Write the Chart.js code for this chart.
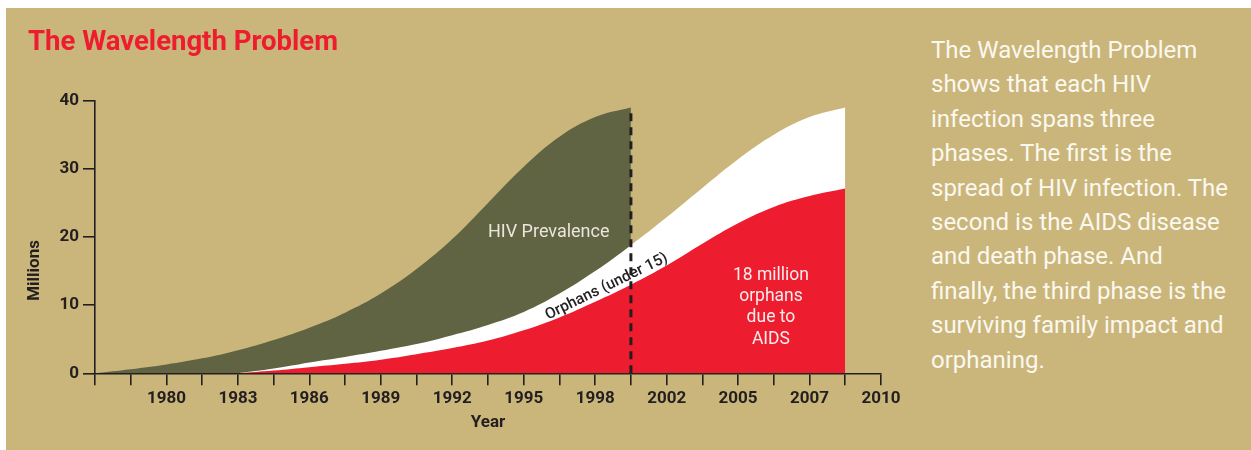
<!DOCTYPE html>
<html>
<head>
<meta charset="utf-8">
<script src="https://cdn.jsdelivr.net/npm/chart.js@4.4.1/dist/chart.umd.min.js"></script>
<style>
body { margin: 0; background: #fff; width: 1251px; height: 450px; overflow: hidden; font-family: Roboto, sans-serif; }
#panel { position: absolute; left: 6px; top: 8px; width: 1245px; height: 442px; background: #cab67b; }
#title { position: absolute; left: 22px; top: 19px; color: #ed1c2e; font-weight: bold; font-size: 27.5px; line-height: 27px; white-space: nowrap; }
#chartBox { position: absolute; left: 0; top: 0; width: 920px; height: 442px; }
#side { position: absolute; left: 925px; top: 25px; color: #fbf8ef; font-size: 24px; line-height: 34.4px; white-space: nowrap; }
</style>
</head>
<body>
<div id="panel">
  <div id="chartBox"><canvas id="waveChart"></canvas></div>
  <div id="title">The Wavelength Problem</div>
  <div id="side">The Wavelength Problem<br>shows that each HIV<br>infection spans three<br>phases. The first is the<br>spread of HIV infection. The<br>second is the AIDS disease<br>and death phase. And<br>finally, the third phase is the<br>surviving family impact and<br>orphaning.</div>
</div>
<script>
// DATA (x = tick index along the year axis, 0..22)
const tickLabels = ['', '', '1980', '', '1983', '', '1986', '', '1989', '', '1992', '',
  '1995', '', '1998', '', '2002', '', '2005', '', '2007', '', '2010'];
const hivTicks = [0, 1, 2, 3, 4, 5, 6, 7, 8, 9, 10, 11, 12, 13, 14, 15];
const hivPrevalence = [0, 0.6, 1.3, 2.2, 3.4, 4.9, 6.7, 8.9, 11.7, 15.3, 19.7, 25.0, 30.3, 34.7, 37.6, 39.0];
const orphanTicks = [4, 5, 6, 7, 8, 9, 10, 11, 12, 13, 14, 15, 16, 17, 18, 19, 20, 21];
const orphansAll = [0, 0.7, 1.6, 2.4, 3.3, 4.3, 5.6, 7.1, 9.0, 11.7, 15.0, 18.8, 22.9, 27.2, 31.4, 35.0, 37.6, 39.0];
const orphansAids = [0, 0.4, 0.9, 1.4, 2.0, 2.8, 3.7, 4.8, 6.3, 8.2, 10.5, 13.0, 15.8, 19.0, 22.0, 24.4, 26.0, 27.1];
const markerTick = 15;

const dark = '#231f20';
const pts = (xs, ys) => xs.map((x, i) => ({ x: x, y: ys[i] }));

// text labels drawn on the chart
const labelPlugin = {
  id: 'labels',
  afterDatasetsDraw(chart) {
    const ctx = chart.ctx, xs = chart.scales.x, ys = chart.scales.y;
    ctx.save();
    ctx.textAlign = 'center';
    ctx.textBaseline = 'middle';

    ctx.fillStyle = '#e9e6dc';
    ctx.font = '18px Roboto';
    ctx.fillText('HIV Prevalence', xs.getPixelForValue(12.7), ys.getPixelForValue(20.6));

    ctx.fillStyle = '#f8ecec';
    ctx.font = '17.5px Roboto';
    const lines = ['18 million', 'orphans', 'due to', 'AIDS'];
    const lineY = [14.4, 11.2, 8.15, 5.0];
    lines.forEach((t, i) => ctx.fillText(t, xs.getPixelForValue(18.92), ys.getPixelForValue(lineY[i])));

    ctx.save();
    ctx.translate(xs.getPixelForValue(14.32), ys.getPixelForValue(12.7));
    ctx.rotate(-26 * Math.PI / 180);
    ctx.fillStyle = dark;
    ctx.font = '500 15.5px Roboto';
    ctx.fillText('Orphans (under 15)', 0, 0);
    ctx.restore();

    ctx.save();
    ctx.translate(ys.left - 24, ys.getPixelForValue(15.1));
    ctx.rotate(-Math.PI / 2);
    ctx.fillStyle = dark;
    ctx.font = 'bold 17px Roboto';
    ctx.fillText('Millions', 0, 0);
    ctx.restore();
    ctx.restore();
  }
};

new Chart(document.getElementById('waveChart'), {
  type: 'line',
  data: {
    datasets: [
      {
        label: 'Marker',
        data: [{ x: markerTick, y: 0 }, { x: markerTick, y: hivPrevalence[hivPrevalence.length - 1] }],
        borderColor: dark, borderWidth: 3, borderDash: [8, 6], fill: false, tension: 0, order: 0
      },
      {
        label: 'Orphans due to AIDS',
        data: pts(orphanTicks, orphansAids),
        backgroundColor: '#ed1c2e', borderWidth: 0, fill: 'origin', order: 1
      },
      {
        label: 'Orphans (under 15)',
        data: pts(orphanTicks, orphansAll),
        backgroundColor: '#ffffff', borderWidth: 0, fill: 'origin', order: 2
      },
      {
        label: 'HIV Prevalence',
        data: pts(hivTicks, hivPrevalence),
        backgroundColor: '#616443', borderWidth: 0, fill: 'origin', order: 3
      }
    ]
  },
  options: {
    responsive: true,
    maintainAspectRatio: false,
    animation: false,
    events: [],
    elements: { point: { radius: 0 }, line: { tension: 0.4 } },
    layout: { padding: { top: 92.7, left: 53, right: 45, bottom: 0 } },
    plugins: { legend: { display: false }, tooltip: { enabled: false } },
    scales: {
      x: {
        type: 'linear', min: 0, max: 22,
        afterFit: (s) => { s.height = 76.7; },
        afterBuildTicks: (s) => { s.ticks = tickLabels.map((t, i) => ({ value: i })); },
        border: { color: dark, width: 1.6 },
        grid: { drawOnChartArea: false, color: dark, lineWidth: 1.6, tickLength: 12 },
        ticks: {
          autoSkip: false, maxRotation: 0, padding: 3, color: dark,
          font: { family: 'Roboto', weight: 'bold', size: 17 },
          callback: (v) => tickLabels[v]
        },
        title: {
          display: true, text: 'Year', color: dark,
          font: { family: 'Roboto', weight: 'bold', size: 17 },
          padding: { top: 0, bottom: 17 }
        }
      },
      y: {
        min: 0, max: 40,
        afterFit: (s) => { s.width = 36; },
        border: { color: dark, width: 1.6 },
        grid: { drawOnChartArea: false, color: dark, lineWidth: 1.6, tickLength: 12 },
        ticks: {
          stepSize: 10, padding: 4, color: dark,
          font: { family: 'Roboto', weight: 'bold', size: 17 }
        }
      }
    }
  },
  plugins: [labelPlugin]
});
</script>
</body>
</html>
